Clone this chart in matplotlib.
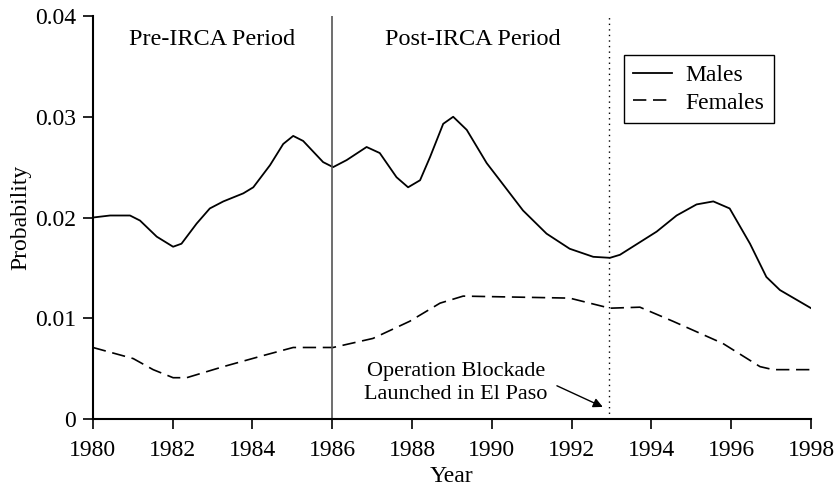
import matplotlib
matplotlib.use("Agg")
import matplotlib.pyplot as plt

plt.rcParams['font.family'] = ['Liberation Serif', 'DejaVu Serif']

# Values
male_years = [1980.0, 1980.43, 1980.93, 1981.18, 1981.6, 1982.01, 1982.22, 1982.6,
              1982.93, 1983.27, 1983.77, 1984.02, 1984.44, 1984.77, 1985.02, 1985.27,
              1985.77, 1986.02, 1986.36, 1986.86, 1987.19, 1987.61, 1987.9, 1988.2,
              1988.45, 1988.78, 1989.03, 1989.37, 1989.87, 1990.2, 1990.78, 1991.37,
              1991.95, 1992.54, 1992.96, 1993.21, 1994.13, 1994.63, 1995.13, 1995.55,
              1995.96, 1996.47, 1996.88, 1997.22, 1998.0]
male_prob = [0.0200, 0.0202, 0.0202, 0.0197, 0.0181, 0.0171, 0.0174, 0.0194,
             0.0209, 0.0216, 0.0224, 0.0230, 0.0252, 0.0273, 0.0281, 0.0276,
             0.0255, 0.0250, 0.0257, 0.0270, 0.0264, 0.0240, 0.0230, 0.0237,
             0.0260, 0.0293, 0.0300, 0.0287, 0.0254, 0.0237, 0.0207, 0.0184,
             0.0169, 0.0161, 0.0160, 0.0163, 0.0186, 0.0202, 0.0213, 0.0216,
             0.0209, 0.0174, 0.0141, 0.0128, 0.0110]

female_years = [1980.0, 1981.01, 1981.51, 1982.01, 1982.35, 1983.27, 1984.27, 1985.02,
                1986.02, 1987.02, 1987.94, 1988.7, 1989.28, 1991.95, 1992.96, 1993.71,
                1994.54, 1995.79, 1996.72, 1997.05, 1998.0]
female_prob = [0.0071, 0.0060, 0.0049, 0.0041, 0.0041, 0.0052, 0.0063, 0.0071,
               0.0071, 0.0080, 0.0097, 0.0115, 0.0122, 0.0120, 0.0110, 0.0111,
               0.0097, 0.0075, 0.0052, 0.0049, 0.0049]

irca_year = 1986
blockade_year = 1992.93
x_ticks = list(range(1980, 1999, 2))
y_ticks = [0, 0.01, 0.02, 0.03, 0.04]
y_labels = ["0", "0.01", "0.02", "0.03", "0.04"]

fig = plt.figure(figsize=(8.37, 4.87), dpi=100)
ax = fig.add_axes([0.111, 0.1396, 0.858, 0.8275])

ax.plot(male_years, male_prob, color="black", lw=1.3, label="Males",
        solid_joinstyle="round")
ax.plot(female_years, female_prob, color="black", lw=1.2, dashes=(8, 4), label="Females")

ax.axvline(irca_year, color="#555555", lw=1.2)
ax.axvline(blockade_year, color="black", lw=1.0, linestyle=(0, (1, 3)))

ax.text(1982.98, 0.0377, "Pre-IRCA Period", ha="center", va="center", fontsize=17.5)
ax.text(1989.52, 0.0377, "Post-IRCA Period", ha="center", va="center", fontsize=17.5)

ax.text(1989.1, 0.0036, "Operation Blockade\nLaunched in El Paso", ha="center",
        va="center", fontsize=16, linespacing=1.3)
ax.annotate("", xy=(1992.78, 0.0012), xytext=(1991.63, 0.0033),
            arrowprops=dict(arrowstyle="-|>", color="black", lw=1.0,
                            mutation_scale=14, shrinkA=0, shrinkB=0))

ax.set_xlim(1980, 1998)
ax.set_ylim(0, 0.04)
ax.set_xticks(x_ticks)
ax.set_yticks(y_ticks)
ax.set_yticklabels(y_labels)
ax.tick_params(direction="out", length=7, width=1.2, labelsize=17)
ax.tick_params(axis="x", pad=8)
ax.tick_params(axis="y", pad=5)
ax.set_xlabel("Year", fontsize=17, labelpad=4)
ax.set_ylabel("Probability", fontsize=17, labelpad=3)

for side in ["top", "right"]:
    ax.spines[side].set_visible(False)
for side in ["left", "bottom"]:
    ax.spines[side].set_linewidth(1.5)

leg = ax.legend(loc="upper left", bbox_to_anchor=(0.7396, 0.903), fontsize=17,
                frameon=True, fancybox=False, edgecolor="black", framealpha=1,
                handlelength=1.65, borderpad=0.4, labelspacing=0.25, handletextpad=0.55,
                borderaxespad=0)
leg.get_frame().set_linewidth(1.0)

fig.savefig("out.png", dpi=100)
